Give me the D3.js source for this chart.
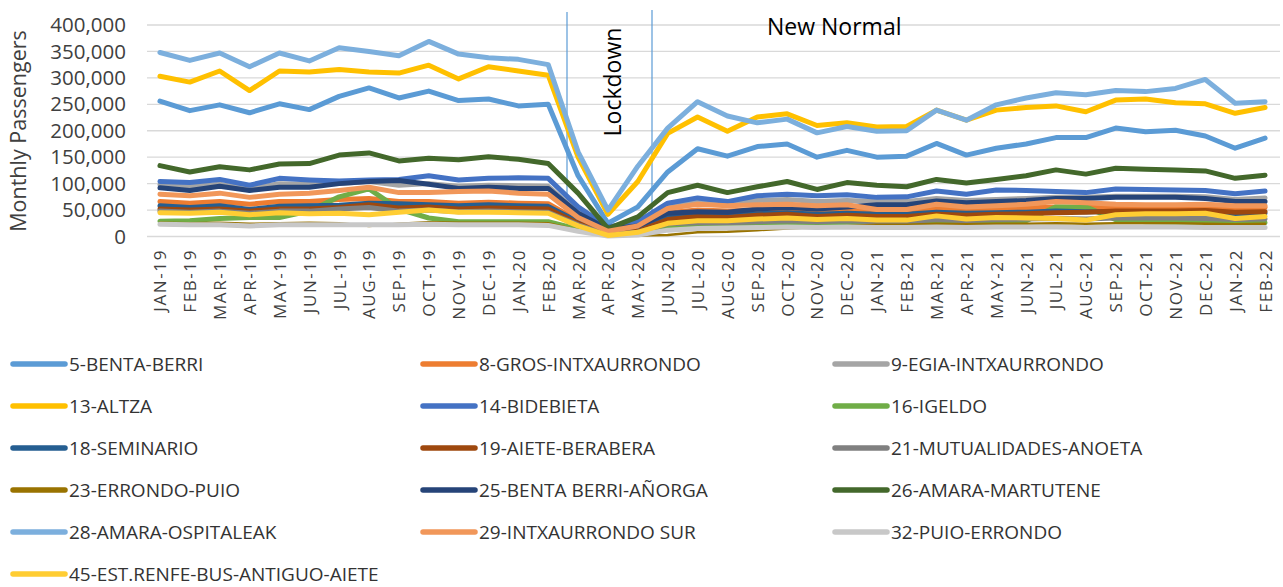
<!DOCTYPE html>
<html>
<head>
<meta charset="utf-8">
<script src="https://cdn.jsdelivr.net/npm/d3@7"></script>
<style>
  body { margin: 0; background: #fff; }
  svg { display: block; font-family: "Open Sans", sans-serif; }
</style>
</head>
<body>
<svg id="chart"></svg>
<script>
const months = ["JAN-19","FEB-19","MAR-19","APR-19","MAY-19","JUN-19","JUL-19","AUG-19","SEP-19","OCT-19","NOV-19","DEC-19",
  "JAN-20","FEB-20","MAR-20","APR-20","MAY-20","JUN-20","JUL-20","AUG-20","SEP-20","OCT-20","NOV-20","DEC-20",
  "JAN-21","FEB-21","MAR-21","APR-21","MAY-21","JUN-21","JUL-21","AUG-21","SEP-21","OCT-21","NOV-21","DEC-21",
  "JAN-22","FEB-22"];

const yTicks = [0, 50000, 100000, 150000, 200000, 250000, 300000, 350000, 400000];

// values in thousands of passengers
const bentaBerri = [256,238,249,234,251,240,265,281,262,275,257,260, 247,250,115,25,56,122,166,152,170,175,150,163, 150,152,176,154,167,175,187,187,205,198,201,190, 167,186];
const grosIntxaurrondo = [66,63,66,61,66,66,70,72,66,66,63,65, 63,62,30,8,15,45,50,48,50,52,48,50, 45,46,52,50,52,54,56,55,56,56,56,57, 53,55];
const egiaIntxaurrondo = [98,94,99,90,100,99,100,104,97,100,95,97, 96,95,45,12,22,58,66,62,68,70,66,68, 66,66,72,68,70,72,74,74,76,76,76,75, 70,73];
const altza = [303,292,313,276,313,311,316,311,309,324,298,321, 313,305,150,42,104,195,226,199,226,232,210,215, 207,208,239,220,239,244,247,236,258,260,253,251, 233,244];
const bidebieta = [104,102,108,97,110,107,105,107,108,115,107,110, 111,110,56,18,28,63,73,66,77,80,77,79, 74,75,86,80,88,87,85,83,90,89,88,87, 81,86];
const igeldo = [29,30,34,36,36,48,75,90,52,35,28,28, 28,28,14,3,5,18,22,22,24,26,24,26, 25,25,27,26,27,30,56,56,32,28,27,27, 25,26];
const seminario = [58,55,58,51,57,58,59,63,62,60,58,60, 58,57,28,6,12,38,42,40,43,45,42,44, 42,42,46,44,45,46,48,47,47,46,46,45, 42,44];
const aieteBerabera = [52,50,52,48,52,52,55,60,54,56,52,54, 53,52,25,5,10,32,38,36,40,42,38,40, 38,38,42,40,42,43,45,46,48,48,48,49, 46,47];
const mutualidades = [48,46,48,44,48,48,52,55,48,50,47,48, 47,46,22,4,8,24,26,26,28,30,28,30, 28,28,32,30,32,33,34,33,35,35,35,34, 32,33];
const errondoPuio = [26,25,26,24,25,26,25,20,24,27,26,26, 26,25,12,1,2,3,8,9,12,15,18,20, 22,22,24,23,24,24,25,24,25,25,25,24, 23,24];
const bentaBerriAnorga = [92,87,95,87,93,93,100,104,106,99,91,93, 91,91,44,14,20,44,47,46,52,55,52,56, 60,60,67,64,66,68,72,72,74,74,74,72, 66,66];
const amaraMartutene = [134,122,132,126,137,138,154,158,143,148,145,151, 146,138,82,15,37,83,97,83,94,104,89,102, 97,94,108,101,108,115,126,118,129,127,126,124, 110,116];
const amaraOspitaleak = [348,333,347,321,347,332,357,350,342,369,345,338, 335,325,160,50,133,205,255,228,215,222,196,208, 199,200,239,220,249,262,272,268,276,274,280,297, 252,255];
const intxaurrondoSur = [80,77,82,74,80,82,87,93,83,83,85,86, 82,80,36,10,20,53,61,58,60,61,58,60, 51,51,61,56,58,61,66,64,61,60,60,61, 58,58];
const puioErrondo = [23,22,22,20,22,22,22,22,22,23,22,22, 22,21,10,1,3,12,15,16,17,18,17,18, 17,17,18,17,18,18,18,17,18,18,18,17, 17,17];
const estRenfe = [45,44,46,41,45,43,44,41,46,50,46,46, 45,44,20,2,8,25,30,30,33,35,32,34, 31,31,39,33,36,35,34,31,41,43,43,44, 34,38];

const seriesNames = ["5-BENTA-BERRI","8-GROS-INTXAURRONDO","9-EGIA-INTXAURRONDO","13-ALTZA","14-BIDEBIETA","16-IGELDO",
  "18-SEMINARIO","19-AIETE-BERABERA","21-MUTUALIDADES-ANOETA","23-ERRONDO-PUIO","25-BENTA BERRI-AÑORGA","26-AMARA-MARTUTENE",
  "28-AMARA-OSPITALEAK","29-INTXAURRONDO SUR","32-PUIO-ERRONDO","45-EST.RENFE-BUS-ANTIGUO-AIETE"];
const seriesValues = [bentaBerri, grosIntxaurrondo, egiaIntxaurrondo, altza, bidebieta, igeldo, seminario, aieteBerabera,
  mutualidades, errondoPuio, bentaBerriAnorga, amaraMartutene, amaraOspitaleak, intxaurrondoSur, puioErrondo, estRenfe];
const colors = ["#5B9BD5","#ED7D31","#A5A5A5","#FFC000","#4472C4","#70AD47","#255E91","#9E480E",
  "#808080","#997300","#264478","#43682B","#7CAFDD","#F1975A","#C8C8C8","#FFCD33"];

const width = 1283, height = 587;
const svg = d3.select("#chart").attr("width", width).attr("height", height);

const x = d3.scalePoint().domain(months).range([145, 1280]).padding(0.5);
const y = d3.scaleLinear().domain([0, 400000]).range([236.5, 25]);

// gridlines
svg.append("g")
  .selectAll("line")
  .data(yTicks)
  .enter()
  .append("line")
  .attr("x1", 147)
  .attr("x2", 1280)
  .attr("y1", d => y(d))
  .attr("y2", d => y(d))
  .style("stroke", "#d9d9d9")
  .style("stroke-width", 1.3);

// y axis labels
const yAxis = svg.append("g")
  .attr("transform", "translate(126,0)")
  .call(d3.axisLeft(y).tickValues(yTicks).tickSize(0).tickPadding(0).tickFormat(d3.format(",")));
yAxis.select(".domain").remove();
yAxis.selectAll("text")
  .style("font-family", "Open Sans")
  .style("font-size", "20.5px")
  .style("fill", "#404040");

svg.append("text")
  .attr("transform", "translate(26,131) rotate(-90)")
  .attr("text-anchor", "middle")
  .style("font-size", "21.5px")
  .style("fill", "#404040")
  .text("Monthly Passengers");

// x axis labels
const xAxis = svg.append("g")
  .attr("transform", "translate(0,249)")
  .call(d3.axisBottom(x).tickSize(0).tickPadding(0));
xAxis.select(".domain").remove();
xAxis.selectAll("text")
  .attr("transform", "rotate(-90)")
  .attr("text-anchor", "end")
  .attr("x", 0)
  .attr("y", 0)
  .attr("dy", "0.35em")
  .style("font-family", "Open Sans")
  .style("font-size", "17px")
  .style("letter-spacing", "1.6px")
  .style("fill", "#404040");

// lockdown markers
[[567, 12], [652, 10]].forEach(([xx, top]) => {
  svg.append("line")
    .attr("x1", xx).attr("x2", xx)
    .attr("y1", top).attr("y2", 231)
    .style("stroke", "#5B9BD5")
    .style("stroke-width", 1.2);
});

svg.append("text")
  .attr("transform", "translate(621,82) rotate(-90)")
  .attr("text-anchor", "middle")
  .style("font-size", "23px")
  .style("fill", "#000")
  .text("Lockdown");

svg.append("text")
  .attr("x", 767)
  .attr("y", 35)
  .style("font-size", "23px")
  .style("fill", "#000")
  .text("New Normal");

// series lines
const line = d3.line()
  .x((d, i) => x(months[i]))
  .y(d => y(d * 1000));

svg.append("g")
  .selectAll("path")
  .data(seriesValues)
  .enter()
  .append("path")
  .attr("d", d => line(d))
  .style("fill", "none")
  .style("stroke", (d, i) => colors[i])
  .style("stroke-width", (d, i) => i === 9 ? 2.5 : 5)
  .style("stroke-linejoin", "round")
  .style("stroke-linecap", "round");

// legend
const legendCols = [13, 423, 835];
const legendItems = svg.append("g")
  .selectAll("g.legend-item")
  .data(seriesNames)
  .enter()
  .append("g")
  .attr("class", "legend-item")
  .attr("transform", (d, i) => `translate(${legendCols[i % 3]}, ${364 + Math.floor(i / 3) * 42})`);

legendItems.append("line")
  .attr("x1", 0).attr("x2", 52)
  .attr("y1", 0).attr("y2", 0)
  .style("stroke", (d, i) => colors[i])
  .style("stroke-width", 5.5)
  .style("stroke-linecap", "round");

legendItems.append("text")
  .attr("x", 56)
  .attr("y", 0)
  .attr("dy", "0.35em")
  .style("font-size", "19px")
  .style("fill", "#333")
  .text(d => d);
</script>
</body>
</html>
